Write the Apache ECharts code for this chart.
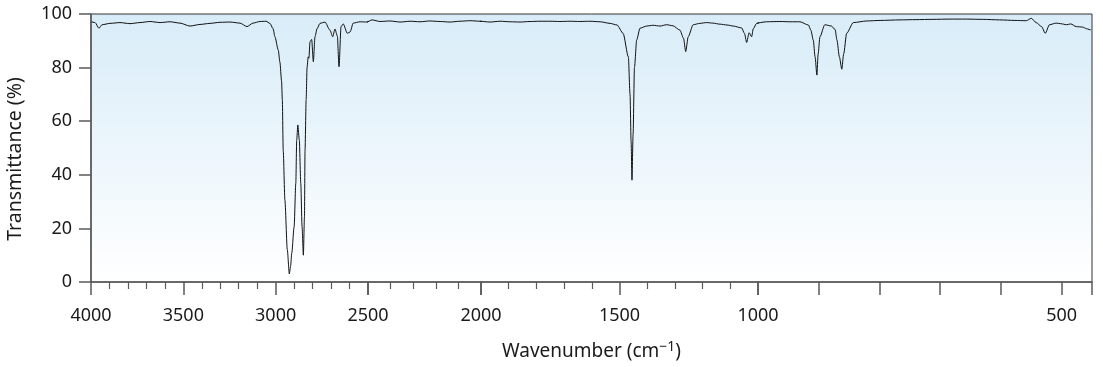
<!DOCTYPE html>
<html>
<head>
<meta charset="utf-8">
<title>IR spectrum</title>
<script src="https://cdn.jsdelivr.net/npm/echarts@6/dist/echarts.min.js"></script>
<style>
  html, body { margin: 0; padding: 0; background: #fff; }
  #chart { width: 1103px; height: 367px; }
</style>
</head>
<body>
<div id="chart"></div>
<script>
// spectrum (cm-1, %T)
const wavenumber = [
  3997, 3978, 3957, 3940, 3897, 3843, 3789, 3735, 3681, 3626, 3572, 3518, 3464, 3410, 3356, 3301,
  3247, 3193, 3155, 3123, 3085, 3052, 3031, 3014, 3004, 2986, 2977, 2968, 2964, 2959, 2950, 2937,
  2926, 2919, 2913, 2900, 2891, 2886, 2880, 2872, 2864, 2857, 2850, 2844, 2841, 2835, 2830, 2824,
  2820, 2814, 2805, 2796, 2787, 2776, 2760, 2733, 2706, 2691, 2679, 2666, 2657, 2646, 2634, 2612,
  2597, 2580, 2543, 2505, 2482, 2447, 2403, 2358, 2314, 2270, 2226, 2181, 2137, 2093, 2049, 2004,
  1968, 1931, 1895, 1859, 1823, 1787, 1751, 1715, 1679, 1643, 1607, 1570, 1534, 1509, 1487, 1468,
  1462, 1458, 1455, 1451, 1446, 1438, 1426, 1402, 1379, 1354, 1330, 1307, 1282, 1269, 1261, 1252,
  1234, 1210, 1185, 1163, 1137, 1112, 1089, 1059, 1049, 1041, 1032, 1023, 1017, 1005,
  986, 964, 947, 931, 917, 913, 909, 906, 903, 901, 898, 890, 879, 873, 870, 866, 862, 859, 854,
  843, 821, 799, 766, 740, 712, 684, 657, 630, 602, 577, 558, 550, 542, 533, 527, 520, 509, 502,
  492, 485, 476, 465, 459, 452
];
const transmittance = [
  97.1, 96.8, 94.7, 96.0, 96.5, 96.8, 96.4, 96.8, 97.2, 96.8, 97.1, 96.6, 95.5, 96.1, 96.5, 96.9,
  97.0, 96.6, 95.3, 96.6, 97.2, 97.3, 96.5, 94.5, 91.5, 86.6, 82.0, 75.0, 68.0, 49.0, 30.6, 12.0,
  3.0, 6.0, 10.7, 20.6, 36.8, 53.0, 58.6, 53.0, 36.8, 20.6, 10.0, 24.4, 49.0, 68.0, 80.0, 84.0,
  83.5, 89.7, 90.5, 82.2, 91.5, 94.5, 96.5, 97.0, 94.0, 91.5, 94.4, 91.8, 80.3, 95.3, 96.3, 92.8,
  93.3, 96.6, 97.1, 97.0, 97.8, 97.2, 97.4, 97.0, 97.3, 97.1, 97.4, 97.2, 97.0, 97.3, 97.5, 97.3,
  97.0, 97.3, 97.1, 97.0, 97.2, 97.3, 97.3, 97.2, 97.3, 97.2, 97.3, 97.1, 96.5, 95.9, 92.8, 84.0,
  70.0, 52.0, 38.0, 55.0, 80.0, 90.3, 94.7, 95.5, 95.8, 95.5, 96.0, 95.6, 94.0, 91.0, 86.0, 91.5,
  96.0, 96.5, 96.8, 96.6, 96.2, 95.9, 95.5, 94.8, 92.8, 89.4, 93.0, 91.5, 94.5, 96.5,
  97.1, 97.2, 97.1, 97.1, 95.9, 94.0, 90.3, 84.0, 77.2, 85.0, 91.5, 96.0, 95.5, 94.2, 90.3, 84.0, 79.4, 85.0, 92.8,
  96.8, 97.4, 97.6, 97.8, 97.9, 98.0, 98.1, 98.1, 98.0, 97.8, 97.6, 97.5, 98.4, 96.8, 95.3, 92.8, 96.0, 96.6, 96.4,
  96.0, 96.3, 95.3, 95.1, 94.5, 94.0
];
// the wavenumber axis is drawn in pieces, each with its own linear scale
const pieceRanges = [[2500, 4000], [2000, 2500], [1000, 2000], [450, 1000]];
const lastPieceTicks = [450, 500, 600, 700, 800, 900, 1000];
const lastPieceLabels = [500];

const spectrum = wavenumber.map((w, i) => [w, transmittance[i]]);

// layout of the pieces (px)
const pieceLeft = [91, 368, 481, 758];
const pieceWidth = [277, 113, 277, 334];
const plotTop = 14, plotBottom = 85;

const fontFamily = 'Noto Sans';
const axisGrey = '#5a5a5a';

const chart = echarts.init(document.getElementById('chart'));

let grids = [], xAxes = [], yAxes = [], series = [];

pieceRanges.forEach((r, i) => {
  const last = i === pieceRanges.length - 1;
  grids.push({
    left: pieceLeft[i], width: pieceWidth[i], top: plotTop, bottom: plotBottom,
    outerBoundsMode: 'none', show: false
  });
  let xa = {
    type: 'value', gridIndex: i, inverse: true,
    min: r[0], max: r[1], interval: 500,
    axisLine: { show: true, lineStyle: { color: axisGrey, width: 1.5 } },
    axisTick: { show: true, length: 13, lineStyle: { color: axisGrey, width: 1.5 } },
    minorTick: { show: !last, splitNumber: 5, length: 7, lineStyle: { color: axisGrey, width: 1.2 } },
    axisLabel: {
      show: true, margin: 25, fontFamily: fontFamily, fontSize: 18, color: '#1a1a1a',
      showMaxLabel: i === 0, showMinLabel: true,
      formatter: (v) => String(v)
    },
    splitLine: { show: false }
  };
  if (last) {
    xa.interval = 50;
    xa.axisTick.customValues = lastPieceTicks;
    xa.axisLabel.customValues = lastPieceLabels;
  }
  xAxes.push(xa);
  yAxes.push({ type: 'value', gridIndex: i, min: 0, max: 100, show: false });
  series.push({
    type: 'line', xAxisIndex: i, yAxisIndex: i,
    data: spectrum, symbol: 'none', clip: true,
    smooth: 0.25, smoothMonotone: 'x',
    lineStyle: { color: '#111', width: 1 },
    silent: true
  });
});

// one grid over the whole plot: background, frame, y axis and axis names
const full = pieceRanges.length;
grids.push({
  left: pieceLeft[0], right: 1103 - (pieceLeft[full - 1] + pieceWidth[full - 1]),
  top: plotTop, bottom: plotBottom, outerBoundsMode: 'none',
  show: true, borderColor: '#333', borderWidth: 1,
  backgroundColor: new echarts.graphic.LinearGradient(0, 0, 0, 1, [
    { offset: 0, color: '#d8ecf8' },
    { offset: 1, color: '#ffffff' }
  ])
});
xAxes.push({
  type: 'value', gridIndex: full, min: 0, max: 1,
  axisLine: { show: false }, axisTick: { show: false }, axisLabel: { show: false },
  splitLine: { show: false },
  name: 'Wavenumber (cm{sup|\u22121})', nameLocation: 'middle', nameGap: 58,
  nameTextStyle: {
    fontFamily: fontFamily, fontSize: 19, color: '#1a1a1a',
    rich: { sup: { fontFamily: fontFamily, fontSize: 14, color: '#1a1a1a', verticalAlign: 'top', padding: [0, 0, 9, 0] } }
  }
});
yAxes.push({
  type: 'value', gridIndex: full, min: 0, max: 100, interval: 20,
  axisLine: { show: true, lineStyle: { color: axisGrey, width: 1.5 } },
  axisTick: { show: true, length: 12, lineStyle: { color: axisGrey, width: 1.5 } },
  axisLabel: { margin: 19, fontFamily: fontFamily, fontSize: 18, color: '#1a1a1a' },
  splitLine: { show: false },
  name: 'Transmittance (%)', nameLocation: 'middle', nameGap: 66,
  nameTextStyle: { fontFamily: fontFamily, fontSize: 19.5, color: '#1a1a1a', padding: [0, 22, 0, 0] }
});

chart.setOption({
  animation: false,
  grid: grids,
  xAxis: xAxes,
  yAxis: yAxes,
  series: series
});
</script>
</body>
</html>
